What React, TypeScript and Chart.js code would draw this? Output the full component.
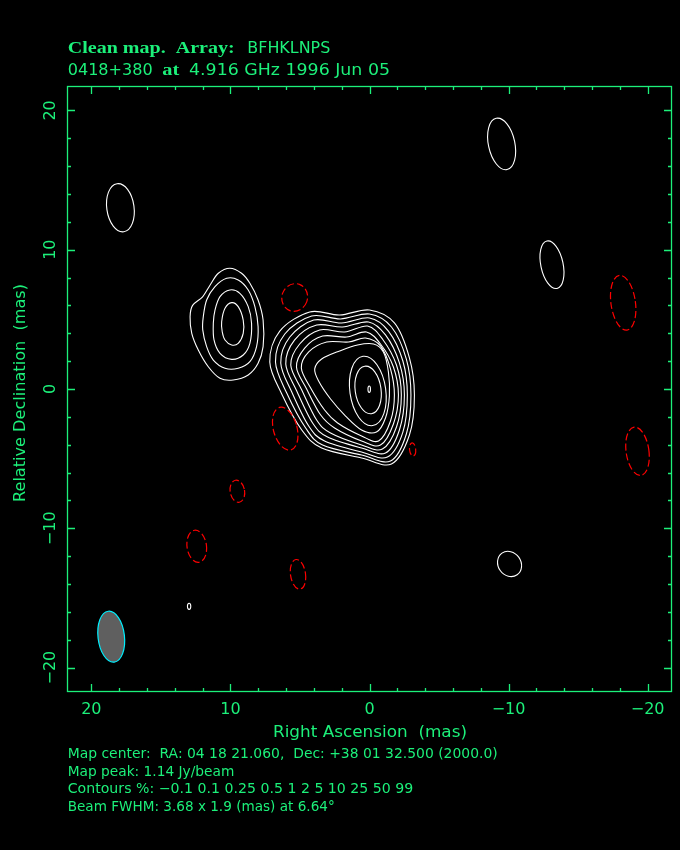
import React, { useEffect, useRef } from "react";
import { Chart, registerables } from "chart.js";

Chart.register(...registerables);

// ---------- axes ----------
const AXIS_MIN = -21.75;
const AXIS_MAX = 21.75;
const majorTicks = [20, 10, 0, -10, -20];
const minorTicks = [18, 16, 14, 12, 8, 6, 4, 2, -2, -4, -6, -8, -12, -14, -16, -18];
const xTickLabels = ["20", "10", "0", "\u221210", "\u221220"];
const yTickLabels = ["20", "10", "0", "\u221210", "\u221220"];

// ---------- texts ----------
const titleLine1 = ["Clean map.  Array:", "BFHKLNPS"];
const titleLine2 = ["0418+380", "at", "4.916 GHz 1996 Jun 05"];
const xTitle = "Right Ascension  (mas)";
const yTitle = "Relative Declination  (mas)";
const infoLines = [
  "Map center:  RA: 04 18 21.060,  Dec: +38 01 32.500 (2000.0)",
  "Map peak: 1.14 Jy/beam",
  "Contours %: \u22120.1 0.1 0.25 0.5 1 2 5 10 25 50 99",
  "Beam FWHM: 3.68 x 1.9 (mas) at 6.64\u00b0",
];

// ---------- contour data (RA offset mas, Dec offset mas) ----------
type Pt = [number, number];
// core, outer group
const core1: Pt[] = [[7.17,1.94],[6.45,4.16],[4.30,5.53],[2.15,5.31],[0,5.67],[-1.79,4.74],[-2.87,2.23],[-3.23,-0.43],[-2.87,-3.30],[-1.58,-5.38],[0.57,-4.95],[3.44,-4.24],[4.87,-2.94],[6.31,-0.36]];
const core2: Pt[] = [[6.76,1.94],[6.09,3.95],[4.16,5.24],[2.08,5.03],[0,5.38],[-1.58,4.45],[-2.65,2.15],[-2.98,-0.43],[-2.65,-3.23],[-1.51,-5.17],[0.57,-4.74],[3.37,-4.02],[4.59,-2.80],[5.95,-0.29]];
const core3: Pt[] = [[6.38,1.87],[5.73,3.73],[4.01,4.95],[2.01,4.74],[0,5.10],[-1.36,4.16],[-2.40,2.01],[-2.72,-0.43],[-2.40,-3.09],[-1.29,-4.88],[0.57,-4.52],[3.23,-3.73],[4.37,-2.66],[5.59,-0.22]];
const core4: Pt[] = [[6.02,1.79],[5.38,3.52],[3.80,4.59],[1.94,4.45],[0.07,4.81],[-1.15,3.88],[-2.15,1.87],[-2.51,-0.43],[-2.15,-2.94],[-1.15,-4.59],[0.57,-4.24],[3.01,-3.45],[4.09,-2.44],[5.23,-0.14]];
const core5: Pt[] = [[5.66,1.72],[5.02,3.23],[3.58,4.24],[1.79,4.09],[0.14,4.52],[-0.93,3.59],[-1.94,1.72],[-2.29,-0.43],[-1.94,-2.73],[-0.93,-4.31],[0.57,-4.02],[2.80,-3.16],[3.80,-2.23],[4.87,-0.07]];
const core6: Pt[] = [[5.25,1.58],[4.66,2.94],[3.37,3.80],[1.65,3.73],[0.22,4.09],[-0.79,3.23],[-1.72,1.58],[-2.08,-0.43],[-1.72,-2.51],[-0.79,-4.02],[0.57,-3.73],[2.51,-2.80],[3.51,-1.87],[4.52,0]];
const core7: Pt[] = [[4.90,1.51],[4.37,2.66],[3.08,3.37],[1.51,3.37],[0.29,3.66],[-0.79,3.09],[-1.51,1.44],[-1.79,-0.43],[-1.51,-2.30],[-0.65,-3.73],[0.57,-3.37],[2.29,-2.44],[3.23,-1.51],[4.23,0.07]];
// contour with its tail to the east
const coreTail: Pt[] = [[3.94,1.44],[3.44,2.15],[2.15,2.73],[0.86,3.16],[-0.29,3.23],[-1.00,2.66],[-1.36,1.22],[-1.43,-0.50],[-1.15,-2.08],[-0.50,-3.09],[0.57,-2.94],[1.72,-1.94],[2.80,-0.72],[3.66,0.57]];
// NE component
const comp1: Pt[] = [[12.90,5.19],[12.72,6.00],[12.00,6.62],[11.47,7.45],[10.87,8.31],[10.04,8.67],[9.20,8.31],[8.60,7.59],[8.01,6.39],[7.65,4.95],[7.65,3.04],[8.01,1.85],[8.72,1.01],[9.80,0.65],[10.75,0.77],[11.59,1.60],[12.31,2.80],[12.78,4.00]];
const comp2: Pt[] = [[11.95,5.19],[11.71,6.39],[11.11,7.35],[10.27,7.95],[9.44,7.83],[8.72,7.11],[8.24,5.91],[8.01,4.47],[8.12,3.04],[8.60,1.96],[9.44,1.49],[10.39,1.49],[11.23,2.08],[11.71,3.04],[11.99,4.24]];
const comp3: Pt[] = [[11.11,5.67],[10.75,6.63],[10.04,7.11],[9.32,6.87],[8.72,5.91],[8.48,4.72],[8.60,3.28],[9.08,2.44],[9.91,2.13],[10.75,2.56],[11.18,3.52],[11.23,4.72]];
const comp4: Pt[] = [[10.63,4.83],[10.39,5.79],[9.91,6.20],[9.44,5.91],[9.08,4.95],[9.08,4.00],[9.44,3.28],[9.91,3.16],[10.39,3.52],[10.59,4.11]];

const positiveContours: Pt[][] = [core1, core2, core3, core4, core5, core6, core7, coreTail, comp1, comp2, comp3, comp4];

// elliptical contours: [x, y, semi-major (mas), semi-minor (mas), PA deg]
type Ell = [number, number, number, number, number];
const positiveEllipses: Ell[] = [
  [-9.50, 17.59, 1.88, 0.95, 12],
  [17.91, 13.01, 1.74, 0.98, 8],
  [-13.12, 8.92, 1.74, 0.80, 12],
  [-10.07, -12.56, 0.95, 0.82, 35],
  [12.97, -15.60, 0.22, 0.12, 0],
  [0.12, -0.14, 2.51, 1.29, 8],
  [0.10, -0.07, 1.72, 0.93, 8],
  [0.02, -0.01, 0.23, 0.09, 0],
];
const negativeEllipses: Ell[] = [
  [-18.24, 6.19, 1.98, 0.88, 8],
  [-19.27, -4.47, 1.75, 0.82, 8],
  [5.38, 6.57, 1.00, 0.92, -20],
  [6.06, -2.85, 1.58, 0.85, 15],
  [-3.10, -4.34, 0.47, 0.22, 5],
  [9.50, -7.34, 0.80, 0.52, 10],
  [12.42, -11.29, 1.16, 0.70, 8],
  [5.14, -13.30, 1.07, 0.54, 8],
];
const beam: Ell = [18.57, -17.78, 1.84, 0.95, 6.64];

const GREEN = "#1cf07a";

function fitText(ctx: CanvasRenderingContext2D, text: string, x: number, y: number, font: string, width: number) {
  ctx.save();
  ctx.font = font;
  ctx.textAlign = "left";
  ctx.textBaseline = "alphabetic";
  const w = ctx.measureText(text).width;
  ctx.translate(x, y);
  ctx.scale(width / w, 1);
  ctx.fillText(text, 0, 0);
  ctx.restore();
}

const mapPlugin = {
  id: "mapPlugin",
  beforeDraw(chart: any) {
    const ctx = chart.ctx;
    ctx.save();
    ctx.fillStyle = "#000";
    ctx.fillRect(0, 0, chart.width, chart.height);
    ctx.restore();
  },
  afterDatasetsDraw(chart: any) {
    const ctx: CanvasRenderingContext2D = chart.ctx;
    const a = chart.chartArea;
    const xs = chart.scales.x;
    const ys = chart.scales.y;
    const px = (v: number) => xs.getPixelForValue(v);
    const py = (v: number) => ys.getPixelForValue(v);
    const kx = Math.abs(px(1) - px(0));
    const ky = Math.abs(py(1) - py(0));

    const curve = (pts: Pt[]) => {
      const P = pts.map(([x, y]) => [px(x), py(y)]);
      const n = P.length;
      ctx.beginPath();
      ctx.moveTo(P[0][0], P[0][1]);
      for (let i = 0; i < n; i++) {
        const p0 = P[(i - 1 + n) % n], p1 = P[i], p2 = P[(i + 1) % n], p3 = P[(i + 2) % n];
        ctx.bezierCurveTo(
          p1[0] + (p2[0] - p0[0]) / 6, p1[1] + (p2[1] - p0[1]) / 6,
          p2[0] - (p3[0] - p1[0]) / 6, p2[1] - (p3[1] - p1[1]) / 6,
          p2[0], p2[1]
        );
      }
      ctx.closePath();
    };
    const ell = (e: Ell) => {
      ctx.beginPath();
      ctx.ellipse(px(e[0]), py(e[1]), e[3] * kx, e[2] * ky, (-e[4] * Math.PI) / 180, 0, Math.PI * 2);
      ctx.closePath();
    };

    ctx.save();
    ctx.beginPath();
    ctx.rect(a.left, a.top, a.right - a.left, a.bottom - a.top);
    ctx.clip();

    ctx.strokeStyle = "#ffffff";
    ctx.lineWidth = 1.1;
    ctx.setLineDash([]);
    positiveContours.forEach((c) => { curve(c); ctx.stroke(); });
    positiveEllipses.forEach((e) => { ell(e); ctx.stroke(); });

    ctx.strokeStyle = "#ff0000";
    ctx.lineWidth = 1.2;
    ctx.setLineDash([7, 3]);
    negativeEllipses.forEach((e) => { ell(e); ctx.stroke(); });
    ctx.setLineDash([]);

    ell(beam);
    ctx.fillStyle = "#5f5f5f";
    ctx.fill();
    ctx.strokeStyle = "#00f0ff";
    ctx.lineWidth = 1.2;
    ctx.stroke();
    ctx.restore();

    // frame
    ctx.save();
    ctx.strokeStyle = GREEN;
    ctx.lineWidth = 1.3;
    ctx.strokeRect(a.left + 0.5, a.top + 0.5, a.right - a.left - 1, a.bottom - a.top - 1);
    const tick = (v: number, len: number) => {
      const x = Math.round(px(v)) + 0.5;
      const y = Math.round(py(v)) + 0.5;
      ctx.beginPath();
      ctx.moveTo(x, a.top); ctx.lineTo(x, a.top + len);
      ctx.moveTo(x, a.bottom); ctx.lineTo(x, a.bottom - len);
      ctx.moveTo(a.left, y); ctx.lineTo(a.left + len, y);
      ctx.moveTo(a.right, y); ctx.lineTo(a.right - len, y);
      ctx.stroke();
    };
    majorTicks.forEach((v) => tick(v, 8));
    minorTicks.forEach((v) => tick(v, 4));

    // tick labels
    ctx.fillStyle = GREEN;
    ctx.font = "16px 'DejaVu Sans'";
    ctx.textBaseline = "alphabetic";
    ctx.textAlign = "center";
    majorTicks.forEach((v, i) => {
      ctx.fillText(xTickLabels[i], px(v), 714);
    });
    majorTicks.forEach((v, i) => {
      ctx.save();
      ctx.translate(55, py(v));
      ctx.rotate(-Math.PI / 2);
      ctx.fillText(yTickLabels[i], 0, 0);
      ctx.restore();
    });

    // axis titles
    fitText(ctx, xTitle, 273, 737, "16px 'DejaVu Sans'", 194);
    ctx.save();
    ctx.translate(25, 502);
    ctx.rotate(-Math.PI / 2);
    fitText(ctx, yTitle, 0, 0, "16px 'DejaVu Sans'", 218);
    ctx.restore();

    // title
    fitText(ctx, titleLine1[0], 67.7, 53, "bold 17px 'Liberation Serif'", 167);
    fitText(ctx, titleLine1[1], 247.3, 53, "16px 'DejaVu Sans'", 83);
    fitText(ctx, titleLine2[0], 67.7, 75, "16px 'DejaVu Sans'", 85);
    fitText(ctx, titleLine2[1], 162.3, 75, "bold 17px 'Liberation Serif'", 17);
    fitText(ctx, titleLine2[2], 189, 75, "16px 'DejaVu Sans'", 201);

    // info lines
    const infoY = [758, 776, 793, 811];
    const infoW = [430, 166.6, 345.6, 267];
    infoLines.forEach((t, i) => fitText(ctx, t, 67.7, infoY[i], "13.5px 'DejaVu Sans'", infoW[i]));
    ctx.restore();
  },
};

export default function App() {
  const ref = useRef<HTMLCanvasElement | null>(null);
  useEffect(() => {
    document.body.style.margin = "0";
    document.body.style.background = "#000";
    if (!ref.current) return;
    const chart = new Chart(ref.current, {
      type: "scatter",
      data: {
        datasets: positiveContours.map((c) => ({
          data: c.map(([x, y]) => ({ x, y })),
          showLine: false,
          pointRadius: 0,
        })),
      },
      options: {
        responsive: false,
        animation: false,
        events: [],
        layout: { padding: { left: 67, right: 8, top: 86, bottom: 158 } },
        plugins: { legend: { display: false }, tooltip: { enabled: false }, title: { display: false } },
        scales: {
          x: { type: "linear", reverse: true, min: AXIS_MIN, max: AXIS_MAX, display: false },
          y: { type: "linear", min: AXIS_MIN, max: AXIS_MAX, display: false },
        },
      },
      plugins: [mapPlugin],
    });
    return () => chart.destroy();
  }, []);
  return (
    <div style={{ width: 680, height: 850, background: "#000" }}>
      <canvas ref={ref} width={680} height={850} style={{ display: "block" }} />
    </div>
  );
}
